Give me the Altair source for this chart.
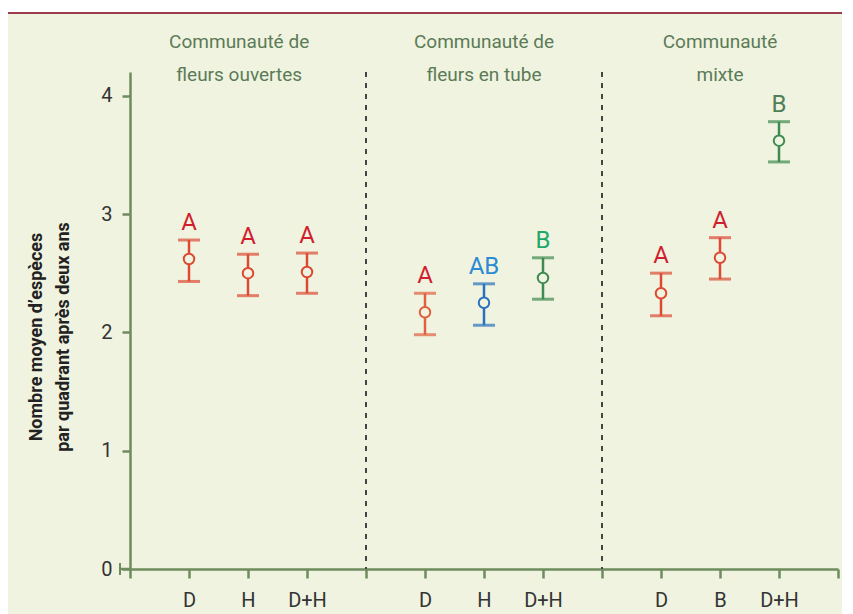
import altair as alt
import pandas as pd

# ---- data ----
groups = ["Communauté de\nfleurs ouvertes", "Communauté de\nfleurs en tube", "Communauté\nmixte"]
categories = ["D", "H", "D+H", "D", "H", "D+H", "D", "B", "D+H"]
group_index = [0, 0, 0, 1, 1, 1, 2, 2, 2]
within_index = [0, 1, 2, 0, 1, 2, 0, 1, 2]
means = [2.62, 2.50, 2.51, 2.17, 2.25, 2.46, 2.33, 2.63, 3.62]
upper = [2.78, 2.66, 2.67, 2.33, 2.41, 2.63, 2.50, 2.80, 3.78]
lower = [2.43, 2.31, 2.33, 1.98, 2.06, 2.28, 2.14, 2.45, 3.44]
letters = ["A", "A", "A", "A", "AB", "B", "A", "A", "B"]
bar_colors = ["#dc4a33", "#dc4a33", "#dc4a33", "#e0603f", "#2a72bd", "#3e8a50",
              "#dc4a33", "#dc4a33", "#3e8a50"]
letter_colors = ["#d01f2e", "#d01f2e", "#d01f2e", "#d01f2e", "#2b8bd3", "#1fa86a",
                 "#d01f2e", "#d01f2e", "#4e7f58"]
y_ticks = [0, 1, 2, 3, 4]
y_title = ["Nombre moyen d’espèces", "par quadrant après deux ans"]

BG = "#f0f3df"
AXIS = "#6e8c5e"
FONT = "Roboto"
W, H = 708, 497

xpos = [g * 4 + i + 1 for g, i in zip(group_index, within_index)]
df = pd.DataFrame({
    "x": xpos, "cat": categories, "mean": means, "upper": upper, "lower": lower,
    "letter": letters, "bc": bar_colors, "lc": letter_colors,
})
seps = pd.DataFrame({"x": [4, 8]})
titles = pd.DataFrame({"x": [1.85, 6, 10], "t": groups})
one = pd.DataFrame({"a": [0]})

label_expr = "''"
for p, c in reversed(list(zip(xpos, categories))):
    label_expr = f"datum.value == {p} ? '{c}' : ({label_expr})"

xscale = alt.Scale(domain=[0, 12], nice=False, zero=False)
yscale = alt.Scale(domain=[0, 4.2], nice=False)

xaxis = alt.Axis(values=list(range(13)), labelExpr=label_expr, grid=False, title=None,
                 domainColor=AXIS, domainWidth=2.5, tickColor=AXIS, tickWidth=2.5,
                 tickSize=9, labelFontSize=20, labelColor="#333333", labelPadding=12,
                 labelFont=FONT, labelFlush=False)
yaxis = alt.Axis(values=y_ticks, format="d", grid=False, title=None, domainColor=AXIS,
                 domainWidth=2.5, tickColor=AXIS, tickWidth=2.5, tickSize=8,
                 labelFontSize=20, labelColor="#333333", labelPadding=10, labelFont=FONT)

base = alt.Chart(df)

whitebar = alt.Chart(one).mark_rect(color="white", clip=False).encode(
    x=alt.value(-122), x2=alt.value(W + 4), y=alt.value(-64), y2=alt.value(-59))
redline = alt.Chart(one).mark_rule(color="#9b3b4b", strokeWidth=2, clip=False).encode(
    x=alt.value(-122), x2=alt.value(W + 4), y=alt.value(-59))

stub = alt.Chart(one).mark_rule(color=AXIS, strokeWidth=2.5, clip=False).encode(
    x=alt.value(-10), x2=alt.value(0), y=alt.value(H))
stubcap = alt.Chart(one).mark_rule(color=AXIS, strokeWidth=2, clip=False).encode(
    x=alt.value(-10), y=alt.value(H - 6), y2=alt.value(H + 6))

sep = alt.Chart(seps).mark_rule(color="#444444", strokeWidth=2, strokeDash=[5, 6]).encode(
    x=alt.X("x:Q", scale=xscale, axis=xaxis), y=alt.value(0), y2=alt.value(H))

bars = base.mark_rule(strokeWidth=2.5).encode(
    x=alt.X("x:Q", scale=xscale, axis=xaxis),
    y=alt.Y("lower:Q", scale=yscale, axis=yaxis), y2="upper:Q",
    color=alt.Color("bc:N", scale=None))
cap_hi = base.mark_tick(orient="horizontal", size=22, thickness=3).encode(
    x=alt.X("x:Q", scale=xscale), y=alt.Y("upper:Q", scale=yscale),
    color=alt.Color("bc:N", scale=None))
cap_lo = base.mark_tick(orient="horizontal", size=22, thickness=3).encode(
    x=alt.X("x:Q", scale=xscale), y=alt.Y("lower:Q", scale=yscale),
    color=alt.Color("bc:N", scale=None))
pts = base.mark_point(shape="circle", filled=False, fill=BG, fillOpacity=1, size=110,
                      strokeWidth=2, opacity=1).encode(
    x=alt.X("x:Q", scale=xscale), y=alt.Y("mean:Q", scale=yscale),
    stroke=alt.Stroke("bc:N", scale=None))
lets = base.mark_text(fontSize=24, font=FONT, baseline="bottom", dy=-5).encode(
    x=alt.X("x:Q", scale=xscale), y=alt.Y("upper:Q", scale=yscale),
    text="letter:N", color=alt.Color("lc:N", scale=None))

gtitles = alt.Chart(titles).mark_text(fontSize=19, font=FONT, color="#5b7b58",
                                      lineBreak="\n", lineHeight=33, baseline="middle",
                                      clip=False).encode(
    x=alt.X("x:Q", scale=xscale), y=alt.value(-30), text="t:N")

yt1 = alt.Chart(one).mark_text(text=y_title[0], angle=270, fontSize=18, fontWeight="bold",
                               font=FONT, color="#222222", clip=False).encode(
    x=alt.value(-93), y=alt.value(265))
yt2 = alt.Chart(one).mark_text(text=y_title[1], angle=270, fontSize=18, fontWeight="bold",
                               font=FONT, color="#222222", clip=False).encode(
    x=alt.value(-66), y=alt.value(265))

chart = alt.layer(
    whitebar, redline, sep, bars, cap_hi, cap_lo, pts, lets, gtitles, yt1, yt2, stub, stubcap
).properties(
    width=W, height=H, background=BG,
    autosize=alt.AutoSizeParams(type="none"),
    padding={"left": 122, "top": 64, "right": 4, "bottom": 45},
).configure_view(stroke=None)

chart.save("out.html", embed_options={"renderer": "svg", "actions": False})
